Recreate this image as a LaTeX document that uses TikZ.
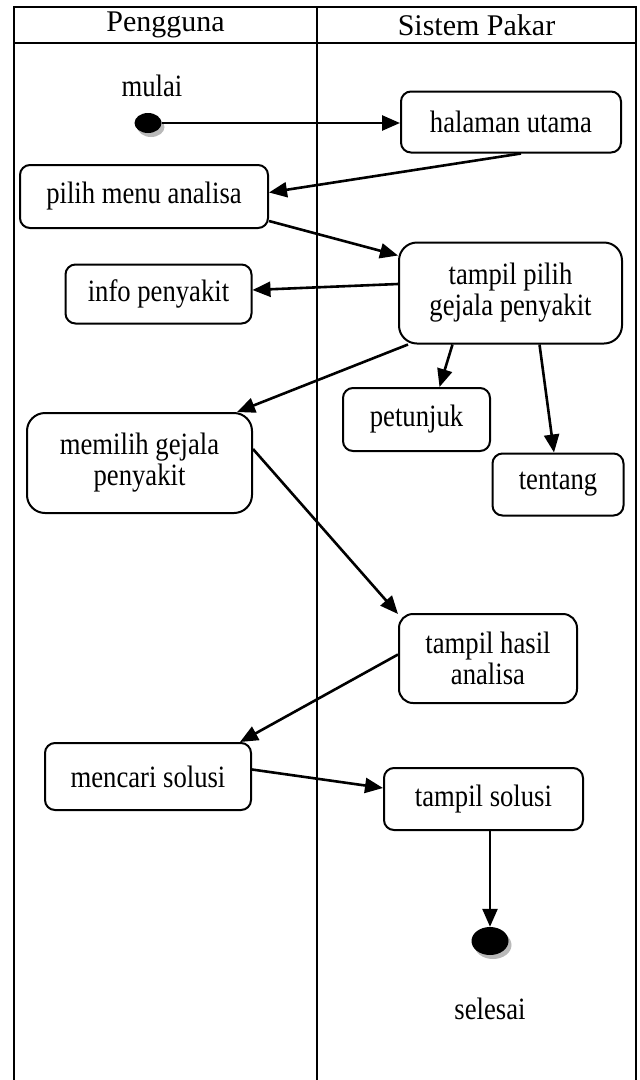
\documentclass[tikz,border=0pt]{standalone}
\usepackage{fontspec}
\setmainfont{Liberation Serif}[FakeStretch=0.86]
\newfontfamily\headfont{Liberation Serif}
\usetikzlibrary{arrows.meta,shapes.geometric,shadows}

\begin{document}
\begin{tikzpicture}[x=1pt,y=-1pt,
    actbox/.style={draw,line width=2pt,rounded corners=10pt,align=center,inner sep=0pt,
      font=\fontsize{31}{31}\selectfont},
    flow/.style={line width=2.6pt,-{Triangle[length=18pt,width=15pt]}},
    dotnode/.style={ellipse,fill=black,inner sep=0pt,
      drop shadow={shadow xshift=3pt,shadow yshift=-4pt,fill=gray!55,opacity=1}},
    lbl/.style={font=\fontsize{31}{31}\selectfont}]
    \useasboundingbox (0,0) rectangle (640,1080);
    % swimlanes
    \draw[line width=2.6pt] (14,1090)--(14,7)--(636,7)--(636,1090);
    \draw[line width=2.6pt] (14,43)--(636,43);
    \draw[line width=2.6pt] (317,7)--(317,1090);
    \node[font=\headfont\fontsize{30}{31}\selectfont] (hpeng) at (165.5,25) {Pengguna};
    \node[font=\headfont\fontsize{30}{31}\selectfont] (hsis) at (476.5,25) {Sistem Pakar};
    % start and end
    \node[dotnode,minimum width=27pt,minimum height=20pt] (start) at (148,123) {};
    \node[lbl] (lmulai) at (152,86) {mulai};
    \node[dotnode,minimum width=37pt,minimum height=28pt] (finish) at (490,941) {};
    \node[lbl] (lselesai) at (490,1009) {selesai};
    % activities
    \node[actbox,minimum width=220pt,minimum height=61pt] (halaman) at (511,122) {halaman utama};
    \node[actbox,minimum width=248pt,minimum height=63pt] (pilih) at (144,196.5) {pilih menu analisa};
    \node[actbox,minimum width=186pt,minimum height=59pt] (info) at (158.5,294) {info penyakit};
    \node[actbox,rounded corners=18pt,minimum width=223pt,minimum height=101pt] (tpilih) at (510.5,293) {tampil pilih\\gejala penyakit};
    \node[actbox,minimum width=147pt,minimum height=63pt] (petunjuk) at (416.5,419.5) {petunjuk};
    \node[actbox,minimum width=131pt,minimum height=62pt] (tentang) at (558,484.5) {tentang};
    \node[actbox,rounded corners=18pt,minimum width=225pt,minimum height=100pt] (memilih) at (139.5,463) {memilih gejala\\penyakit};
    \node[actbox,rounded corners=14pt,minimum width=178pt,minimum height=89pt] (thasil) at (488,658.5) {tampil hasil\\analisa};
    \node[actbox,minimum width=206pt,minimum height=67pt] (mencari) at (148,776.5) {mencari solusi};
    \node[actbox,minimum width=199pt,minimum height=62pt] (tsolusi) at (483.5,799) {tampil solusi};
    % flows
    \draw[flow] (start) -- (start -| halaman.west);
    \draw[flow] ([xshift=10pt]halaman.south) -- ([yshift=4pt]pilih.east);
    \draw[flow] ([yshift=8pt]pilih.south east) -- ([yshift=-14pt]tpilih.north west);
    \draw[flow] ([yshift=9pt]tpilih.west) -- ([yshift=4pt]info.east);
    \draw[flow] ([xshift=10pt]tpilih.south west) -- ([xshift=-16pt]memilih.north east);
    \draw[flow] ([xshift=-58pt]tpilih.south) -- ([xshift=23pt]petunjuk.north);
    \draw[flow] ([xshift=29pt]tpilih.south) -- ([xshift=-4pt]tentang.north);
    \draw[flow] ([yshift=14pt]memilih.east) -- ([yshift=-1pt]thasil.north west);
    \draw[flow] ([yshift=4pt]thasil.west) -- ([xshift=-12pt]mencari.north east);
    \draw[flow] ([yshift=7pt]mencari.east) -- ([yshift=11pt]tsolusi.west);
    \draw[flow] (finish |- tsolusi.south) -- (finish.north);
\end{tikzpicture}
\end{document}
